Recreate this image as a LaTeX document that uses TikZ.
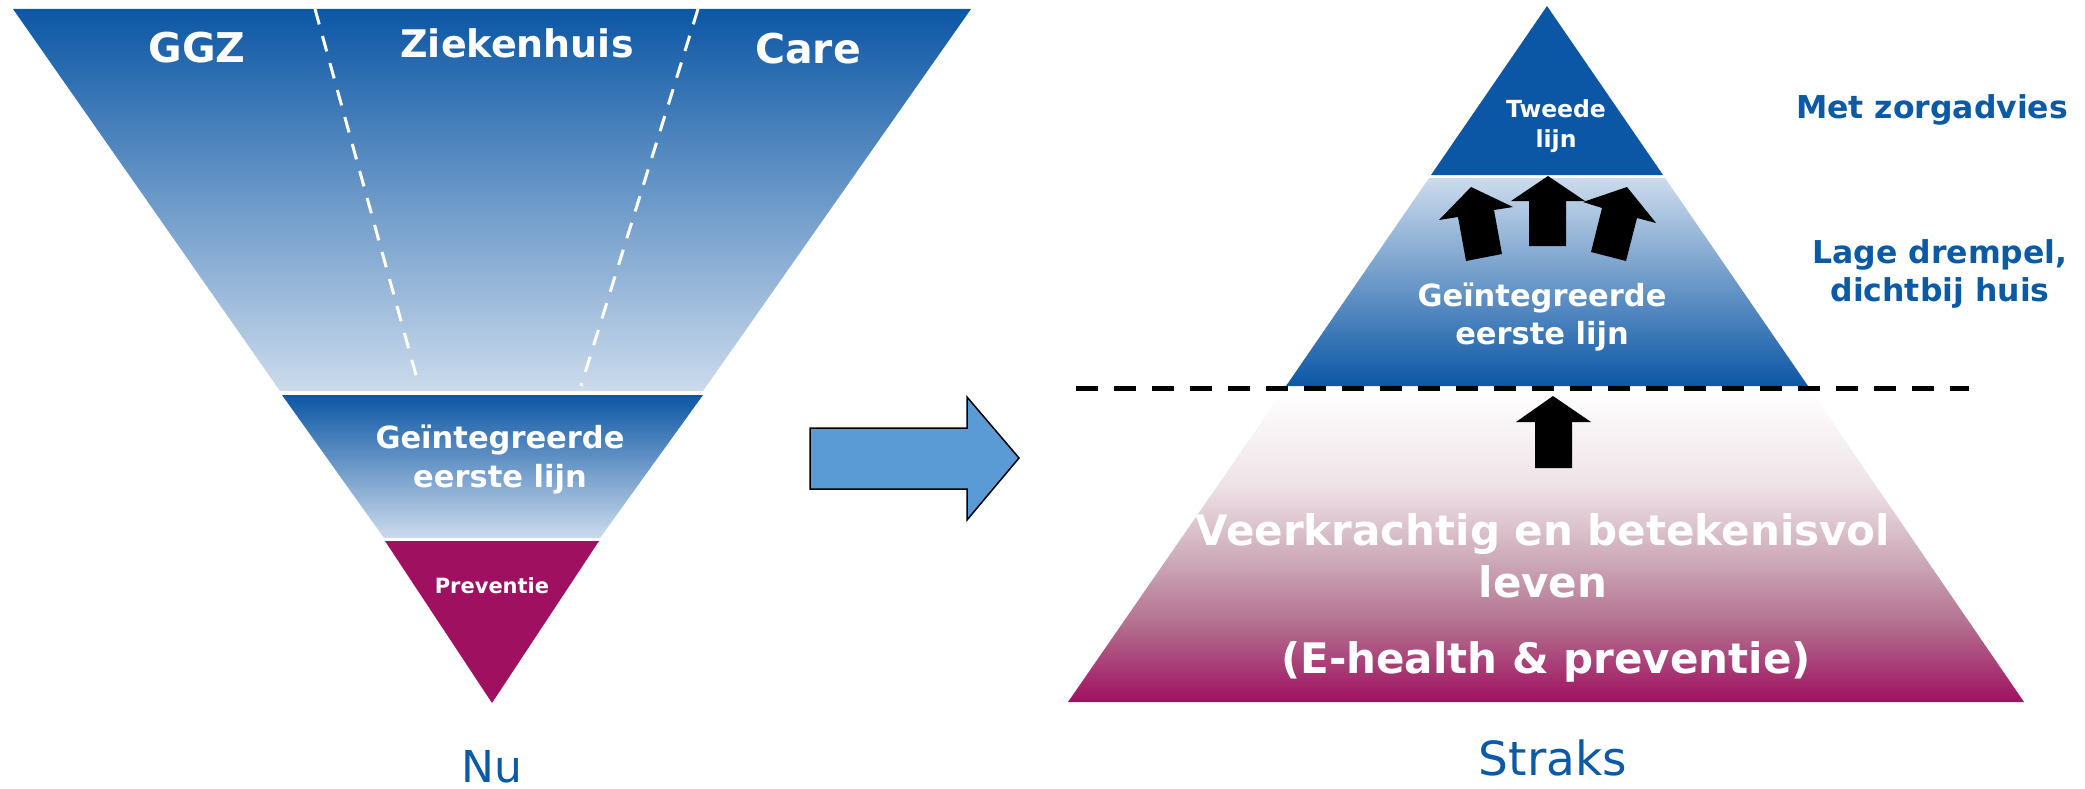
\documentclass[tikz,border=0pt]{standalone}
\usepackage{fontspec}
\setmainfont{DejaVu Sans}
\definecolor{dblue}{RGB}{12,87,165}
\definecolor{lblue}{RGB}{204,219,236}
\definecolor{mag}{RGB}{160,16,96}
\definecolor{magA}{RGB}{238,227,231}
\definecolor{magB}{RGB}{204,168,183}
\definecolor{magC}{RGB}{179,111,143}
\definecolor{arrowblue}{RGB}{91,155,213}
\definecolor{txtblue}{RGB}{11,90,166}
\pgfdeclareverticalshading{magfade}{100bp}{color(0bp)=(mag); color(25bp)=(mag); color(37.5bp)=(magC); color(47.5bp)=(magB); color(60bp)=(magA); color(75bp)=(white); color(100bp)=(white)}
\newcommand{\fs}[2]{\fontsize{#1}{#2}\selectfont}
\begin{document}
\begin{tikzpicture}[x=1pt,y=-1pt,
  wtxt/.style={text=white, inner sep=0pt, align=center, anchor=base},
  btxt/.style={text=txtblue, inner sep=0pt, align=center, anchor=base},
  blackarrow/.style={fill=black, draw=none},
  whitedash/.style={draw=white, line width=3, dash pattern=on 16 off 12},
  blackdash/.style={draw=black, line width=5, dash pattern=on 22 off 16}]
\useasboundingbox (0,0) rectangle (2085,789);

% ---------- left: Nu ----------
\path[top color=dblue, bottom color=lblue] (13,9) -- (971,9) -- (703,391) -- (280,391) -- cycle;
\path[top color=dblue, bottom color=lblue] (282,395) -- (703,395) -- (600,538) -- (384,538) -- cycle;
\path[fill=mag] (385,541) -- (599,541) -- (492,703) -- cycle;
\draw[whitedash] (315,9) -- (419,386);
\draw[whitedash] (698,9) -- (581,386);

\node[wtxt, font=\bfseries\fs{41}{48}] (ggz) at (197,63) {GGZ};
\node[wtxt, font=\bfseries\fs{38}{45}] (zh) at (517,58) {Ziekenhuis};
\node[wtxt, font=\bfseries\fs{41}{48}] (care) at (808,64) {Care};
\node[wtxt, font=\bfseries\fs{30.5}{39}] (gel) at (500,487) {Geïntegreerde\\eerste lijn};
\node[wtxt, font=\bfseries\fs{21}{25}] (prev) at (492,593) {Preventie};
\node[btxt, font=\fs{44}{50}, text depth=0pt] (nu) at (492,782) {Nu};

% ---------- big arrow ----------
\draw[fill=arrowblue, line width=1.5, line join=miter] (810,428) -- (967,428) -- (967,397) -- (1019,458) -- (967,520) -- (967,489) -- (810,489) -- cycle;

% ---------- right: Straks ----------
\path[fill=dblue] (1547,6) -- (1663,175) -- (1431,175) -- cycle;
\path[top color=lblue, bottom color=dblue] (1429,178) -- (1665,178) -- (1808,386) -- (1286,386) -- cycle;
\path[shading=magfade] (1283,391) -- (1811,391) -- (2024,702) -- (1068,702) -- cycle;

% arrows
\path[blackarrow] (1548,176) -- (1585,201) -- (1566,201) -- (1566,246) -- (1529,246) -- (1529,201) -- (1511,201) -- cycle;
\path[blackarrow] (1471,187) -- (1513,207) -- (1494,210) -- (1502,254) -- (1466,261) -- (1458,217) -- (1439,220) -- cycle;
\path[blackarrow] (1627,187) -- (1656,223) -- (1637,218) -- (1626,261) -- (1591,252) -- (1602,208) -- (1583,202) -- cycle;
\path[blackarrow] (1553,396) -- (1591,422) -- (1572,422) -- (1572,468) -- (1535,468) -- (1535,422) -- (1516,422) -- cycle;

\draw[blackdash] (1076,388) -- (1969,388);

\node[wtxt, font=\bfseries\fs{23.5}{29}] (tw) at (1556,147) {Tweede\\lijn};
\node[wtxt, font=\bfseries\fs{30.5}{38}] (ger) at (1542,344) {Geïntegreerde\\eerste lijn};
\node[wtxt, font=\bfseries\fs{42}{52}] (vk) at (1543,597) {Veerkrachtig en betekenisvol\\leven};
\node[wtxt, font=\bfseries\fs{42}{50}] (eh) at (1546,673) {(E-health \& preventie)};
\node[btxt, font=\fs{47}{54}] (straks) at (1553,775) {Straks};

\node[btxt, font=\bfseries\fs{31.5}{38}] (mz) at (1932,119) {Met zorgadvies};
\node[btxt, font=\bfseries\fs{31.5}{38}] (ld) at (1940,301) {Lage drempel,\\dichtbij huis};
\end{tikzpicture}
\end{document}
